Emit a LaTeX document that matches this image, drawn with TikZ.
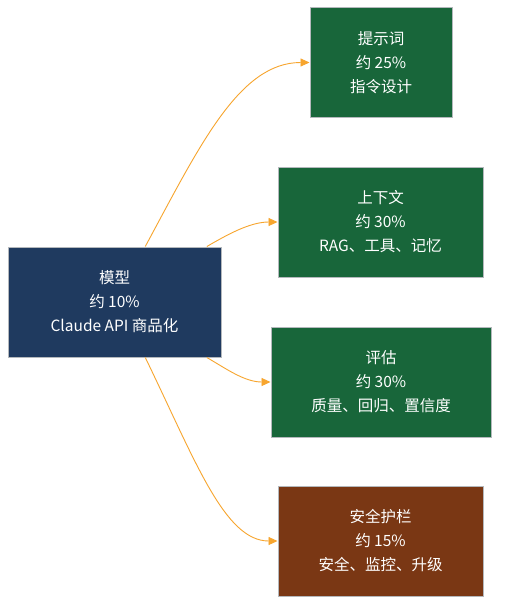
\documentclass[tikz,border=0pt]{standalone}
\usepackage{fontspec}
\newfontfamily\cjk{Noto Sans CJK SC}
\usetikzlibrary{arrows.meta}
\definecolor{modelblue}{HTML}{1F3A5F}
\definecolor{stagegreen}{HTML}{18663A}
\definecolor{guardbrown}{HTML}{7A3714}
\definecolor{edgegray}{HTML}{B4B8BC}
\definecolor{linkorange}{HTML}{F7A52E}

\begin{document}
\begin{tikzpicture}[x=1pt,y=-1pt,
  box/.style={draw=edgegray,line width=1pt,text=white,align=center,
    minimum height=110pt,inner sep=0pt,
    font=\cjk\fontsize{15.5}{24}\selectfont},
  link/.style={linkorange,line width=0.9pt,-{Triangle[length=9pt,width=8pt]}}]
  \fill[white] (0,0) rectangle (507,614);
  \useasboundingbox (0,0) rectangle (507,614);
  \node[box,fill=modelblue,minimum width=213pt] (model) at (114.5,302) {模型\\约 10\%\\Claude API 商品化};
  \node[box,fill=stagegreen,minimum width=142pt] (prompt) at (381,62.5) {提示词\\约 25\%\\指令设计};
  \node[box,fill=stagegreen,minimum width=205pt] (context) at (380.5,222) {上下文\\约 30\%\\RAG、工具、记忆};
  \node[box,fill=stagegreen,minimum width=220pt] (eval) at (381,382) {评估\\约 30\%\\质量、回归、置信度};
  \node[box,fill=guardbrown,minimum width=205pt] (guard) at (380.5,541) {安全护栏\\约 15\%\\安全、监控、升级};
  \draw[link] (model.61) .. controls +(55,-102) and +(-70,0) .. (prompt.west);
  \draw[link] (model.31) .. controls +(19,-11) and +(-28,0) .. (context.west);
  \draw[link] (model.-31) .. controls +(19,11) and +(-26,0) .. (eval.west);
  \draw[link] (model.-61) .. controls +(50,103) and +(-53,0) .. (guard.west);
\end{tikzpicture}
\end{document}
